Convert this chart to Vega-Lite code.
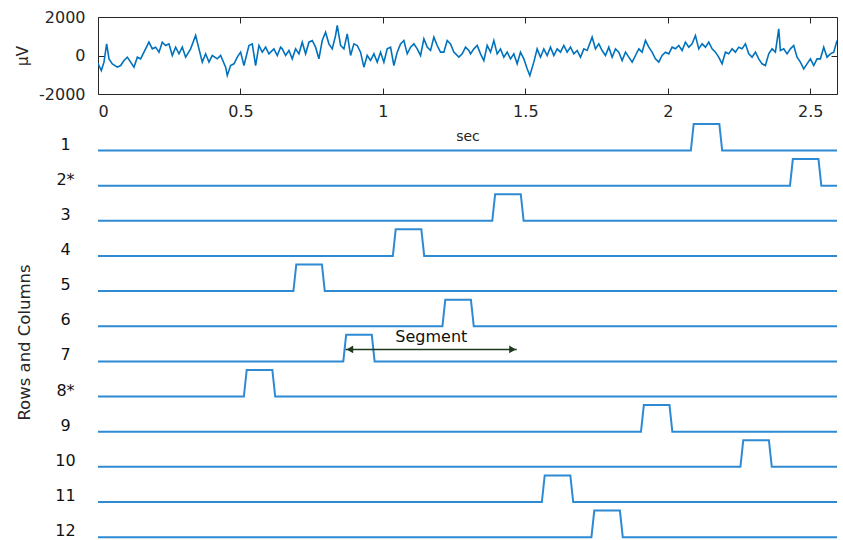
{
  "$schema": "https://vega.github.io/schema/vega-lite/v6.json",
  "padding": {"left": 15, "top": 8, "right": 0, "bottom": 0},
  "background": "white",
  "config": {
    "font": "DejaVu Sans",
    "axis": {"labelFont": "DejaVu Sans", "titleFont": "DejaVu Sans", "labelColor": "#262626", "titleColor": "#262626", "titleFontWeight": "normal", "grid": false, "domain": false, "tickColor": "#262626"}
  },
  "spacing": 26,
  "bounds": "flush",
  "datasets": {
    "eeg": [
      {"t":0.0,"v":-400},{"t":0.0035,"v":-520},{"t":0.0117,"v":-780},{"t":0.021,"v":-346},{"t":0.0304,"v":606},{"t":0.0386,"v":-173},{"t":0.0503,"v":-433},{"t":0.0678,"v":-606},{"t":0.0795,"v":-520},{"t":0.0912,"v":-260},{"t":0.1029,"v":-87},{"t":0.1146,"v":-346},{"t":0.1263,"v":-606},{"t":0.138,"v":-87},{"t":0.1497,"v":-173},{"t":0.1614,"v":173},{"t":0.1789,"v":693},{"t":0.1906,"v":346},{"t":0.2023,"v":433},{"t":0.214,"v":173},{"t":0.2257,"v":693},{"t":0.2374,"v":520},{"t":0.2491,"v":606},{"t":0.2608,"v":0},{"t":0.2725,"v":433},{"t":0.2842,"v":87},{"t":0.2959,"v":433},{"t":0.3076,"v":-87},{"t":0.3251,"v":346},{"t":0.3427,"v":1039},{"t":0.3544,"v":346},{"t":0.3661,"v":-346},{"t":0.3778,"v":87},{"t":0.3895,"v":-346},{"t":0.4012,"v":0},{"t":0.4187,"v":-173},{"t":0.4304,"v":0},{"t":0.448,"v":-606},{"t":0.4538,"v":-1039},{"t":0.4655,"v":-520},{"t":0.4772,"v":-433},{"t":0.4889,"v":-87},{"t":0.5006,"v":173},{"t":0.5123,"v":-520},{"t":0.5298,"v":520},{"t":0.5415,"v":606},{"t":0.5532,"v":-520},{"t":0.5649,"v":520},{"t":0.5766,"v":173},{"t":0.5883,"v":433},{"t":0.6,"v":87},{"t":0.6175,"v":346},{"t":0.6292,"v":0},{"t":0.6409,"v":433},
      {"t":0.6468,"v":346},{"t":0.6585,"v":0},{"t":0.6702,"v":260},{"t":0.6819,"v":-173},{"t":0.6936,"v":346},{"t":0.7053,"v":87},{"t":0.717,"v":693},{"t":0.7287,"v":87},{"t":0.7404,"v":693},{"t":0.752,"v":779},{"t":0.7637,"v":433},{"t":0.7754,"v":-173},{"t":0.7871,"v":779},{"t":0.7988,"v":1212},{"t":0.8105,"v":606},{"t":0.8222,"v":346},{"t":0.8339,"v":1039},{"t":0.8398,"v":1559},{"t":0.8515,"v":520},{"t":0.8632,"v":346},{"t":0.8749,"v":1126},{"t":0.8866,"v":0},{"t":0.8983,"v":606},{"t":0.9099,"v":520},{"t":0.9216,"v":173},{"t":0.9333,"v":-606},{"t":0.945,"v":0},{"t":0.9567,"v":-260},{"t":0.9684,"v":87},{"t":0.9801,"v":-346},{"t":0.9918,"v":173},{"t":1.0035,"v":-346},{"t":1.0152,"v":346},{"t":1.0269,"v":433},{"t":1.0386,"v":-520},{"t":1.0503,"v":173},{"t":1.062,"v":606},{"t":1.0737,"v":779},{"t":1.0854,"v":87},{"t":1.0971,"v":433},{"t":1.1088,"v":606},{"t":1.1205,"v":346},{"t":1.1322,"v":0},{"t":1.1439,"v":866},{"t":1.1556,"v":433},{"t":1.1673,"v":260},{"t":1.179,"v":952},{"t":1.1906,"v":520},{"t":1.2023,"v":173},{"t":1.214,"v":173},{"t":1.2257,"v":779},{"t":1.2374,"v":606},{"t":1.2491,"v":173},{"t":1.2667,"v":-87},{"t":1.2784,"v":87},{"t":1.2901,"v":433},{"t":1.3018,"v":260},
      {"t":1.3076,"v":87},{"t":1.3193,"v":346},{"t":1.331,"v":520},{"t":1.3427,"v":87},{"t":1.3544,"v":-260},{"t":1.3661,"v":520},{"t":1.3778,"v":173},{"t":1.3895,"v":779},{"t":1.4012,"v":87},{"t":1.4129,"v":346},{"t":1.4246,"v":-87},{"t":1.4363,"v":173},{"t":1.448,"v":-173},{"t":1.4596,"v":87},{"t":1.4713,"v":-433},{"t":1.483,"v":173},{"t":1.4947,"v":-173},{"t":1.5064,"v":-693},{"t":1.5158,"v":-1039},{"t":1.5298,"v":-346},{"t":1.5415,"v":346},{"t":1.5532,"v":-87},{"t":1.5649,"v":346},{"t":1.5766,"v":0},{"t":1.5883,"v":433},{"t":1.6,"v":0},{"t":1.6117,"v":346},{"t":1.6234,"v":173},{"t":1.6351,"v":520},{"t":1.6468,"v":173},{"t":1.6585,"v":433},{"t":1.6702,"v":87},{"t":1.6819,"v":260},{"t":1.6936,"v":-87},{"t":1.7053,"v":346},{"t":1.717,"v":260},{"t":1.7345,"v":952},{"t":1.7462,"v":346},{"t":1.7579,"v":606},{"t":1.7696,"v":260},{"t":1.7813,"v":0},{"t":1.793,"v":433},{"t":1.8047,"v":-87},{"t":1.8164,"v":346},{"t":1.8281,"v":173},{"t":1.8398,"v":-260},{"t":1.8515,"v":173},{"t":1.8632,"v":-87},{"t":1.8749,"v":-346},{"t":1.8866,"v":0},{"t":1.8983,"v":346},{"t":1.9099,"v":173},{"t":1.9216,"v":779},{"t":1.9333,"v":433},{"t":1.945,"v":173},
      {"t":1.9567,"v":-173},{"t":1.9684,"v":-346},{"t":1.9801,"v":0},{"t":1.9918,"v":173},{"t":2.0035,"v":87},{"t":2.0152,"v":433},{"t":2.0269,"v":346},{"t":2.0386,"v":520},{"t":2.0503,"v":260},{"t":2.062,"v":693},{"t":2.0737,"v":433},{"t":2.0854,"v":606},{"t":2.0971,"v":1039},{"t":2.1088,"v":346},{"t":2.1205,"v":606},{"t":2.1322,"v":433},{"t":2.1439,"v":693},{"t":2.1556,"v":346},{"t":2.1673,"v":173},{"t":2.1789,"v":-87},{"t":2.1906,"v":-433},{"t":2.2023,"v":173},{"t":2.214,"v":87},{"t":2.2257,"v":346},{"t":2.2374,"v":173},{"t":2.2491,"v":433},{"t":2.2608,"v":346},{"t":2.2725,"v":606},{"t":2.2842,"v":87},{"t":2.2959,"v":-87},{"t":2.3076,"v":173},{"t":2.3193,"v":-173},{"t":2.331,"v":-433},{"t":2.3427,"v":-520},{"t":2.3544,"v":87},{"t":2.3661,"v":346},{"t":2.3778,"v":173},{"t":2.3895,"v":1386},{"t":2.3953,"v":260},{"t":2.407,"v":346},{"t":2.4187,"v":87},{"t":2.4304,"v":346},{"t":2.4421,"v":520},{"t":2.4538,"v":-87},{"t":2.4655,"v":-346},{"t":2.4772,"v":-693},{"t":2.4889,"v":-433},{"t":2.5006,"v":-173},{"t":2.5123,"v":-520},{"t":2.524,"v":-173},{"t":2.5357,"v":-173},{"t":2.5474,"v":433},{"t":2.5591,"v":-87},{"t":2.5708,"v":87},{"t":2.5825,"v":173},{"t":2.5942,"v":779}
    ],
    "steps": [
      {"row":"1","t":0,"lvl":0,"i":0},{"row":"1","t":2.081,"lvl":0,"i":1},{"row":"1","t":2.091,"lvl":1,"i":2},{"row":"1","t":2.181,"lvl":1,"i":3},{"row":"1","t":2.191,"lvl":0,"i":4},{"row":"1","t":2.594,"lvl":0,"i":5},
      {"row":"2*","t":0,"lvl":0,"i":0},{"row":"2*","t":2.429,"lvl":0,"i":1},{"row":"2*","t":2.439,"lvl":1,"i":2},{"row":"2*","t":2.529,"lvl":1,"i":3},{"row":"2*","t":2.539,"lvl":0,"i":4},{"row":"2*","t":2.594,"lvl":0,"i":5},
      {"row":"3","t":0,"lvl":0,"i":0},{"row":"3","t":1.384,"lvl":0,"i":1},{"row":"3","t":1.394,"lvl":1,"i":2},{"row":"3","t":1.484,"lvl":1,"i":3},{"row":"3","t":1.494,"lvl":0,"i":4},{"row":"3","t":2.594,"lvl":0,"i":5},
      {"row":"4","t":0,"lvl":0,"i":0},{"row":"4","t":1.035,"lvl":0,"i":1},{"row":"4","t":1.045,"lvl":1,"i":2},{"row":"4","t":1.135,"lvl":1,"i":3},{"row":"4","t":1.145,"lvl":0,"i":4},{"row":"4","t":2.594,"lvl":0,"i":5},
      {"row":"5","t":0,"lvl":0,"i":0},{"row":"5","t":0.686,"lvl":0,"i":1},{"row":"5","t":0.696,"lvl":1,"i":2},{"row":"5","t":0.786,"lvl":1,"i":3},{"row":"5","t":0.796,"lvl":0,"i":4},{"row":"5","t":2.594,"lvl":0,"i":5},
      {"row":"6","t":0,"lvl":0,"i":0},{"row":"6","t":1.209,"lvl":0,"i":1},{"row":"6","t":1.219,"lvl":1,"i":2},{"row":"6","t":1.309,"lvl":1,"i":3},{"row":"6","t":1.319,"lvl":0,"i":4},{"row":"6","t":2.594,"lvl":0,"i":5},
      {"row":"7","t":0,"lvl":0,"i":0},{"row":"7","t":0.861,"lvl":0,"i":1},{"row":"7","t":0.871,"lvl":1,"i":2},{"row":"7","t":0.961,"lvl":1,"i":3},{"row":"7","t":0.971,"lvl":0,"i":4},{"row":"7","t":2.594,"lvl":0,"i":5},
      {"row":"8*","t":0,"lvl":0,"i":0},{"row":"8*","t":0.512,"lvl":0,"i":1},{"row":"8*","t":0.522,"lvl":1,"i":2},{"row":"8*","t":0.612,"lvl":1,"i":3},{"row":"8*","t":0.622,"lvl":0,"i":4},{"row":"8*","t":2.594,"lvl":0,"i":5},
      {"row":"9","t":0,"lvl":0,"i":0},{"row":"9","t":1.906,"lvl":0,"i":1},{"row":"9","t":1.916,"lvl":1,"i":2},{"row":"9","t":2.006,"lvl":1,"i":3},{"row":"9","t":2.016,"lvl":0,"i":4},{"row":"9","t":2.594,"lvl":0,"i":5},
      {"row":"10","t":0,"lvl":0,"i":0},{"row":"10","t":2.255,"lvl":0,"i":1},{"row":"10","t":2.265,"lvl":1,"i":2},{"row":"10","t":2.355,"lvl":1,"i":3},{"row":"10","t":2.365,"lvl":0,"i":4},{"row":"10","t":2.594,"lvl":0,"i":5},
      {"row":"11","t":0,"lvl":0,"i":0},{"row":"11","t":1.558,"lvl":0,"i":1},{"row":"11","t":1.568,"lvl":1,"i":2},{"row":"11","t":1.658,"lvl":1,"i":3},{"row":"11","t":1.668,"lvl":0,"i":4},{"row":"11","t":2.594,"lvl":0,"i":5},
      {"row":"12","t":0,"lvl":0,"i":0},{"row":"12","t":1.732,"lvl":0,"i":1},{"row":"12","t":1.742,"lvl":1,"i":2},{"row":"12","t":1.832,"lvl":1,"i":3},{"row":"12","t":1.842,"lvl":0,"i":4},{"row":"12","t":2.594,"lvl":0,"i":5}
    ],
    "seg": [{"row":"7","t0":0.869,"t1":1.47,"lvl":0.45}],
    "heads": [{"row":"7","t":0.884,"lvl":0.45,"dir":"left"},{"row":"7","t":1.455,"lvl":0.45,"dir":"right"}],
    "label": [{"row":"7","t":1.17,"lvl":0.92,"text":"Segment"}]
  },
  "vconcat": [
    {
      "width": 739,
      "height": 77,
      "view": {"stroke": "#262626", "strokeWidth": 1},
      "data": {"name": "eeg"},
      "layer": [
        {
          "mark": {"type": "line", "color": "#0072BD", "strokeWidth": 1.6, "clip": true},
          "encoding": {
            "x": {"field": "t", "type": "quantitative", "scale": {"domain": [0, 2.594], "nice": false, "zero": false},
                  "axis": {"orient": "bottom", "values": [0, 0.5, 1, 1.5, 2, 2.5], "format": "~g", "tickSize": -6, "labelPadding": 15, "labelFontSize": 16, "title": "sec", "titleFontSize": 14, "titlePadding": 10}},
            "y": {"field": "v", "type": "quantitative", "scale": {"domain": [-2000, 2000], "nice": false},
                  "axis": {"orient": "left", "values": [-2000, 0, 2000], "labelExpr": "'' + datum.value", "tickSize": -6, "labelPadding": 19, "labelFontSize": 16, "title": "μV", "titleFontSize": 15, "titlePadding": 8}}
          }
        },
        {
          "mark": {"type": "line", "opacity": 0},
          "encoding": {
            "x": {"field": "t", "type": "quantitative", "axis": {"orient": "top", "values": [0, 0.5, 1, 1.5, 2, 2.5], "labels": false, "tickSize": -6, "title": null}},
            "y": {"field": "v", "type": "quantitative", "axis": {"orient": "right", "values": [-2000, 0, 2000], "labels": false, "tickSize": -6, "title": null}}
          }
        }
      ],
      "resolve": {"axis": {"x": "independent", "y": "independent"}}
    },
    {
      "width": 739,
      "height": 421.8,
      "view": {"stroke": null},
      "encoding": {
        "y": {"field": "row", "type": "nominal",
              "scale": {"domain": ["1","2*","3","4","5","6","7","8*","9","10","11","12"], "paddingInner": 0, "paddingOuter": 0},
              "axis": {"ticks": false, "domain": false, "labelFontSize": 16, "labelAlign": "center", "labelPadding": 33, "labelOffset": 7, "labelColor": "#111", "title": "Rows and Columns", "titleFontSize": 16.5, "titlePadding": 22, "titleY": 222}},
        "yOffset": {"field": "lvl", "type": "quantitative", "scale": {"domain": [0, 1], "range": [30.5, 3.9]}}
      },
      "layer": [
        {
          "data": {"name": "steps"},
          "mark": {"type": "line", "color": "#2f8ad4", "strokeWidth": 2},
          "encoding": {
            "x": {"field": "t", "type": "quantitative", "scale": {"domain": [0, 2.594], "nice": false, "zero": false}, "axis": null},
            "detail": {"field": "row"},
            "order": {"field": "i", "type": "quantitative"}
          }
        },
        {
          "data": {"name": "seg"},
          "mark": {"type": "rule", "color": "#1e3a1e", "strokeWidth": 1.5},
          "encoding": {
            "x": {"field": "t0", "type": "quantitative"},
            "x2": {"field": "t1"}
          }
        },
        {
          "data": {"name": "heads"},
          "mark": {"type": "point", "filled": true, "color": "#1e3a1e", "opacity": 1, "size": 60},
          "encoding": {
            "x": {"field": "t", "type": "quantitative"},
            "shape": {"field": "dir", "type": "nominal", "scale": {"domain": ["left", "right"], "range": ["triangle-left", "triangle-right"]}, "legend": null}
          }
        },
        {
          "data": {"name": "label"},
          "mark": {"type": "text", "font": "DejaVu Sans", "fontSize": 16, "color": "#111", "baseline": "middle", "align": "center"},
          "encoding": {
            "x": {"field": "t", "type": "quantitative"},
            "text": {"field": "text"}
          }
        }
      ]
    }
  ]
}
